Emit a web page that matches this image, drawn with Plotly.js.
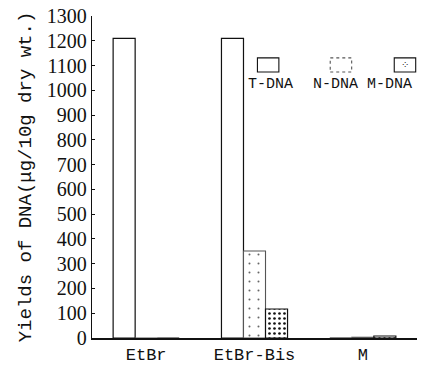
<!DOCTYPE html>
<html><head><meta charset="utf-8">
<script src="https://cdn.plot.ly/plotly-3.0.1.min.js"></script>
<style>html,body{margin:0;padding:0;background:#fff}#c{width:440px;height:370px}</style>
</head><body><div id="c"></div>
<script>
var categories = ["EtBr", "EtBr-Bis", "M"];
var seriesNames = ["T-DNA", "N-DNA", "M-DNA"];
var tDNA = [1210, 1210, 0];
var nDNA = [0, 351, 3];
var mDNA = [0, 117, 8];
var yTicks = [0,100,200,300,400,500,600,700,800,900,1000,1100,1200,1300];

var markers = [
  {color:'#fff', line:{color:'#111', width:1.2}},
  {color:'#fff', line:{color:'#555', width:1.1},
     pattern:{shape:'.', size:9, solidity:0.04, fgcolor:'#666', bgcolor:'#fff'}},
  {color:'#fff', line:{color:'#111', width:1.2},
     pattern:{shape:'.', size:5, solidity:0.22, fgcolor:'#111', bgcolor:'#fff'}}
];
var data = [tDNA, nDNA, mDNA];
var traces = data.map(function(v,i){
  return {type:'bar', name:seriesNames[i], x:categories, y:v, marker:markers[i], showlegend:false};
});

// custom legend: symbol above label
var legX = [0.542, 0.766, 0.963];
var legTextX = [0.55, 0.748, 0.915];
var shapes = [], annotations = [];
seriesNames.forEach(function(n,i){
  var m = markers[i];
  var s = {type:'rect', xref:'paper', yref:'paper', x0:legX[i]-0.033, x1:legX[i]+0.033,
    y0:0.826, y1:0.870, fillcolor:'#fff', line:{color:m.line.color, width:1.1}};
  if (i===1) s.line.dash='dot';
  shapes.push(s);
  annotations.push({xref:'paper', yref:'paper', x:legTextX[i], y:0.786, xanchor:'center', yanchor:'middle',
    text:n, showarrow:false, font:{family:'Liberation Mono', size:15, color:'#111'}});
});
// dots inside M-DNA legend box
annotations.push({xref:'paper', yref:'paper', x:legX[2], y:0.848, xanchor:'center', yanchor:'middle',
  text:'⁘', showarrow:false, font:{family:'DejaVu Sans', size:10, color:'#333'}});

var layout = {
  width:440, height:370,
  margin:{l:92, r:23, t:16, b:32},
  paper_bgcolor:'#fff', plot_bgcolor:'#fff',
  barmode:'group', bargap:0.39, bargroupgap:0,
  shapes:shapes, annotations:annotations,
  xaxis:{type:'category', range:[-0.5,2.5], showline:true, linecolor:'#111', linewidth:1.5,
    ticks:'', tickfont:{family:'Liberation Mono', size:17, color:'#111'}, showgrid:false, zeroline:false},
  yaxis:{range:[0,1300], tickvals:yTicks, ticktext:yTicks.map(String), showline:true, linecolor:'#111', linewidth:1.2,
    ticks:'inside', ticklen:3, tickcolor:'#111', showgrid:false, zeroline:false,
    tickfont:{family:'Liberation Serif, Times New Roman, serif', size:20, color:'#111'},
    title:{text:'Yields of DNA(μg/10g dry wt.)', font:{family:'Liberation Mono', size:19, color:'#111'}, standoff:10}}
};
Plotly.newPlot('c', traces, layout, {displayModeBar:false, staticPlot:true});
</script></body></html>
